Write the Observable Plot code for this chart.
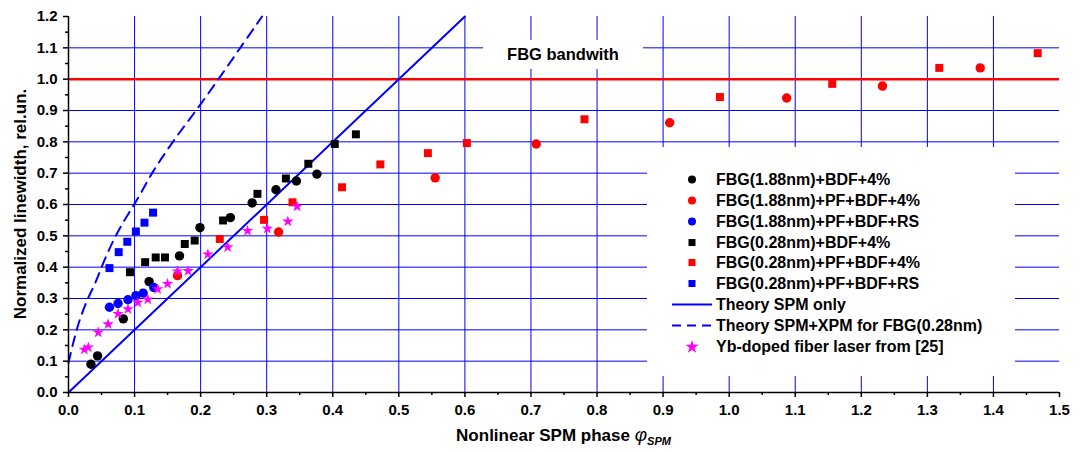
<!DOCTYPE html>
<html>
<head>
<meta charset="utf-8">
<script src="https://cdn.jsdelivr.net/npm/d3@7"></script>
<script src="https://cdn.jsdelivr.net/npm/@observablehq/plot@0.6"></script>
<style>
  body { margin: 0; background: #fff; font-family: "Liberation Sans", Arial, sans-serif; }
  #wrap { position: relative; width: 1084px; height: 452px; }
  .box { position: absolute; background: #fff; }
  #bw { left: 483px; top: 40px; width: 160px; height: 29px; line-height: 29px; text-align: center;
        font-weight: bold; font-size: 16.5px; color: #000; }
  #legend { left: 647px; top: 147px; width: 368px; height: 229px; }
  .row { position: absolute; left: 0; height: 21px; width: 368px; }
  .row svg { position: absolute; left: 15px; top: 0; }
  .row span { position: absolute; left: 69px; top: 0; line-height: 21px; font-weight: bold; font-size: 16px; color: #000; white-space: nowrap; }
</style>
</head>
<body>
<div id="wrap">
  <div id="chart"></div>
  <div id="bw" class="box">FBG bandwith</div>
  <div id="legend" class="box"></div>
</div>
<script>
// ---- data ----
const xTicks = [0.0,0.1,0.2,0.3,0.4,0.5,0.6,0.7,0.8,0.9,1.0,1.1,1.2,1.3,1.4,1.5];
const yTicks = [0.0,0.1,0.2,0.3,0.4,0.5,0.6,0.7,0.8,0.9,1.0,1.1,1.2];
const xMinor = [0.05,0.15,0.25,0.35,0.45,0.55,0.65,0.75,0.85,0.95,1.05,1.15,1.25,1.35,1.45];
const yMinor = [0.05,0.15,0.25,0.35,0.45,0.55,0.65,0.75,0.85,0.95,1.05,1.15];
const xGrid = [0.1,0.2,0.3,0.4,0.5,0.6,0.7,0.8,0.9,1.0,1.1,1.2,1.3,1.4];
const yGrid = [0.1,0.2,0.3,0.4,0.5,0.6,0.7,0.8,0.9,1.1];
const bandwidthLevel = [1.0];

const blackCircX = [0.034,0.044,0.083,0.122,0.168,0.199,0.245,0.278,0.314,0.345,0.376];
const blackCircY = [0.090,0.117,0.235,0.354,0.436,0.526,0.558,0.605,0.647,0.675,0.697];
const redCircX   = [0.165,0.318,0.555,0.708,0.910,1.087,1.232,1.380];
const redCircY   = [0.373,0.512,0.685,0.793,0.861,0.940,0.978,1.036];
const blueCircX  = [0.062,0.075,0.090,0.102,0.113,0.129];
const blueCircY  = [0.272,0.284,0.296,0.309,0.317,0.335];
const blackSqX   = [0.093,0.116,0.132,0.146,0.176,0.191,0.234,0.286,0.329,0.363,0.403,0.435];
const blackSqY   = [0.384,0.416,0.431,0.431,0.474,0.485,0.549,0.634,0.683,0.730,0.793,0.824];
const redSqX     = [0.229,0.296,0.339,0.414,0.472,0.544,0.603,0.781,0.986,1.156,1.318,1.467];
const redSqY     = [0.490,0.551,0.607,0.655,0.728,0.764,0.796,0.872,0.943,0.985,1.036,1.083];
const blueSqX    = [0.062,0.076,0.089,0.102,0.115,0.128];
const blueSqY    = [0.397,0.448,0.481,0.514,0.542,0.574];
const starX      = [0.024,0.030,0.045,0.060,0.075,0.090,0.105,0.120,0.135,0.150,0.165,0.181,0.211,0.241,0.271,0.301,0.332,0.346];
const starY      = [0.137,0.144,0.192,0.218,0.251,0.266,0.287,0.297,0.330,0.347,0.387,0.388,0.441,0.464,0.516,0.523,0.546,0.594];
const spmX       = [0.0, 0.6];
const spmY       = [0.0, 1.2];
const xpmX       = [0.000,0.008,0.016,0.028,0.040,0.054,0.068,0.082,0.095,0.105,0.128,0.158,0.193,0.227,0.260,0.293];
const xpmY       = [0.095,0.165,0.225,0.293,0.347,0.420,0.485,0.540,0.585,0.620,0.705,0.800,0.900,1.000,1.100,1.200];

const seriesNames = [
  "FBG(1.88nm)+BDF+4%",
  "FBG(1.88nm)+PF+BDF+4%",
  "FBG(1.88nm)+PF+BDF+RS",
  "FBG(0.28nm)+BDF+4%",
  "FBG(0.28nm)+PF+BDF+4%",
  "FBG(0.28nm)+PF+BDF+RS",
  "Theory SPM only",
  "Theory SPM+XPM for FBG(0.28nm)",
  "Yb-doped fiber laser from [25]"
];

const pts = (xs, ys) => xs.map((x, i) => ({x, y: ys[i]}));
const BLUE = "#0000ff", RED = "#ff0000", MAG = "#ff00ff";

const dotSeries = [
  {data: pts(blackCircX, blackCircY), fill: "#000", symbol: "circle", r: 4.7},
  {data: pts(redCircX, redCircY),     fill: RED,    symbol: "circle", r: 4.7},
  {data: pts(blueCircX, blueCircY),   fill: BLUE,   symbol: "circle", r: 4.7},
  {data: pts(blackSqX, blackSqY),     fill: "#000", symbol: "square", r: 4.5},
  {data: pts(redSqX, redSqY),         fill: RED,    symbol: "square", r: 4.5},
  {data: pts(blueSqX, blueSqY),       fill: BLUE,   symbol: "square", r: 4.5},
  {data: pts(starX, starY),           fill: MAG,    symbol: "star",   r: 3.6}
];

const plot = Plot.plot({
  width: 1084, height: 452,
  marginLeft: 68, marginRight: 25, marginTop: 16, marginBottom: 60,
  x: {domain: [0, 1.5], label: null},
  y: {domain: [0, 1.2], label: null},
  style: {fontFamily: "'Liberation Sans', Arial, sans-serif", fontWeight: "bold", fontSize: "15px", color: "#000", background: "#fff"},
  marks: [
    Plot.ruleX(xGrid, {stroke: BLUE, strokeWidth: 1}),
    Plot.ruleY(yGrid, {stroke: BLUE, strokeWidth: 1}),
    Plot.ruleY(bandwidthLevel, {stroke: RED, strokeWidth: 2.5}),
    Plot.line(pts(spmX, spmY), {x: "x", y: "y", stroke: BLUE, strokeWidth: 2}),
    Plot.line(pts(xpmX, xpmY), {x: "x", y: "y", stroke: BLUE, strokeWidth: 2, strokeDasharray: "10,7", curve: "catmull-rom"}),
    ...dotSeries.map(s => Plot.dot(s.data, {x: "x", y: "y", fill: s.fill, symbol: s.symbol, r: s.r, stroke: "none"})),
    Plot.ruleX([0], {stroke: "#000", strokeWidth: 1.5}),
    Plot.ruleY([0], {stroke: "#000", strokeWidth: 1.5}),
    Plot.axisX({ticks: xTicks, tickFormat: d => d.toFixed(1), tickSize: 5, tickPadding: 7, label: null, strokeWidth: 1.5}),
    Plot.axisX({ticks: xMinor, tickFormat: () => "", tickSize: 3, label: null, strokeWidth: 1.5}),
    Plot.axisY({ticks: yTicks, tickFormat: d => d.toFixed(1), tickSize: 5, tickPadding: 6, label: null, strokeWidth: 1.5}),
    Plot.axisY({ticks: yMinor, tickFormat: () => "", tickSize: 3, label: null, strokeWidth: 1.5})
  ]
});
document.getElementById("chart").appendChild(plot);

// axis titles
const svg = d3.select(plot);
const xt = svg.append("text")
  .attr("x", 563.5).attr("y", 441)
  .attr("text-anchor", "middle")
  .style("font-size", "17px").style("font-weight", "bold").attr("fill", "#000");
xt.append("tspan").text("Nonlinear SPM phase ");
xt.append("tspan").text("φ").style("font-style", "italic").style("font-weight", "normal").style("font-size", "19px");
xt.append("tspan").text("SPM").attr("dy", 4).style("font-style", "italic").style("font-size", "11px");

svg.append("text")
  .attr("transform", "translate(26,204) rotate(-90)")
  .attr("text-anchor", "middle")
  .style("font-size", "17px").style("font-weight", "bold").attr("fill", "#000")
  .text("Normalized linewidth, rel.un.");

// legend
const legendKinds = [
  {type: "circle", color: "#000"}, {type: "circle", color: RED}, {type: "circle", color: BLUE},
  {type: "square", color: "#000"}, {type: "square", color: RED}, {type: "square", color: BLUE},
  {type: "line", color: BLUE, dash: null}, {type: "line", color: BLUE, dash: "9,6"},
  {type: "star", color: MAG}
];
const legend = d3.select("#legend");
seriesNames.forEach((name, i) => {
  const row = legend.append("div").attr("class", "row").style("top", (21.8 + i * 20.9) + "px");
  const s = row.append("svg").attr("width", 60).attr("height", 21);
  const k = legendKinds[i];
  if (k.type === "circle") s.append("circle").attr("cx", 30).attr("cy", 10.5).attr("r", 4).attr("fill", k.color);
  else if (k.type === "square") s.append("rect").attr("x", 26.5).attr("y", 7).attr("width", 7).attr("height", 7).attr("fill", k.color);
  else if (k.type === "star") s.append("path").attr("transform", "translate(30,11)").attr("d", d3.symbol(d3.symbolStar, 55)()).attr("fill", k.color);
  else s.append("line").attr("x1", 10).attr("x2", 50).attr("y1", 10.5).attr("y2", 10.5)
        .attr("stroke", k.color).attr("stroke-width", 2).attr("stroke-dasharray", k.dash);
  row.append("span").text(name);
});
</script>
</body>
</html>
